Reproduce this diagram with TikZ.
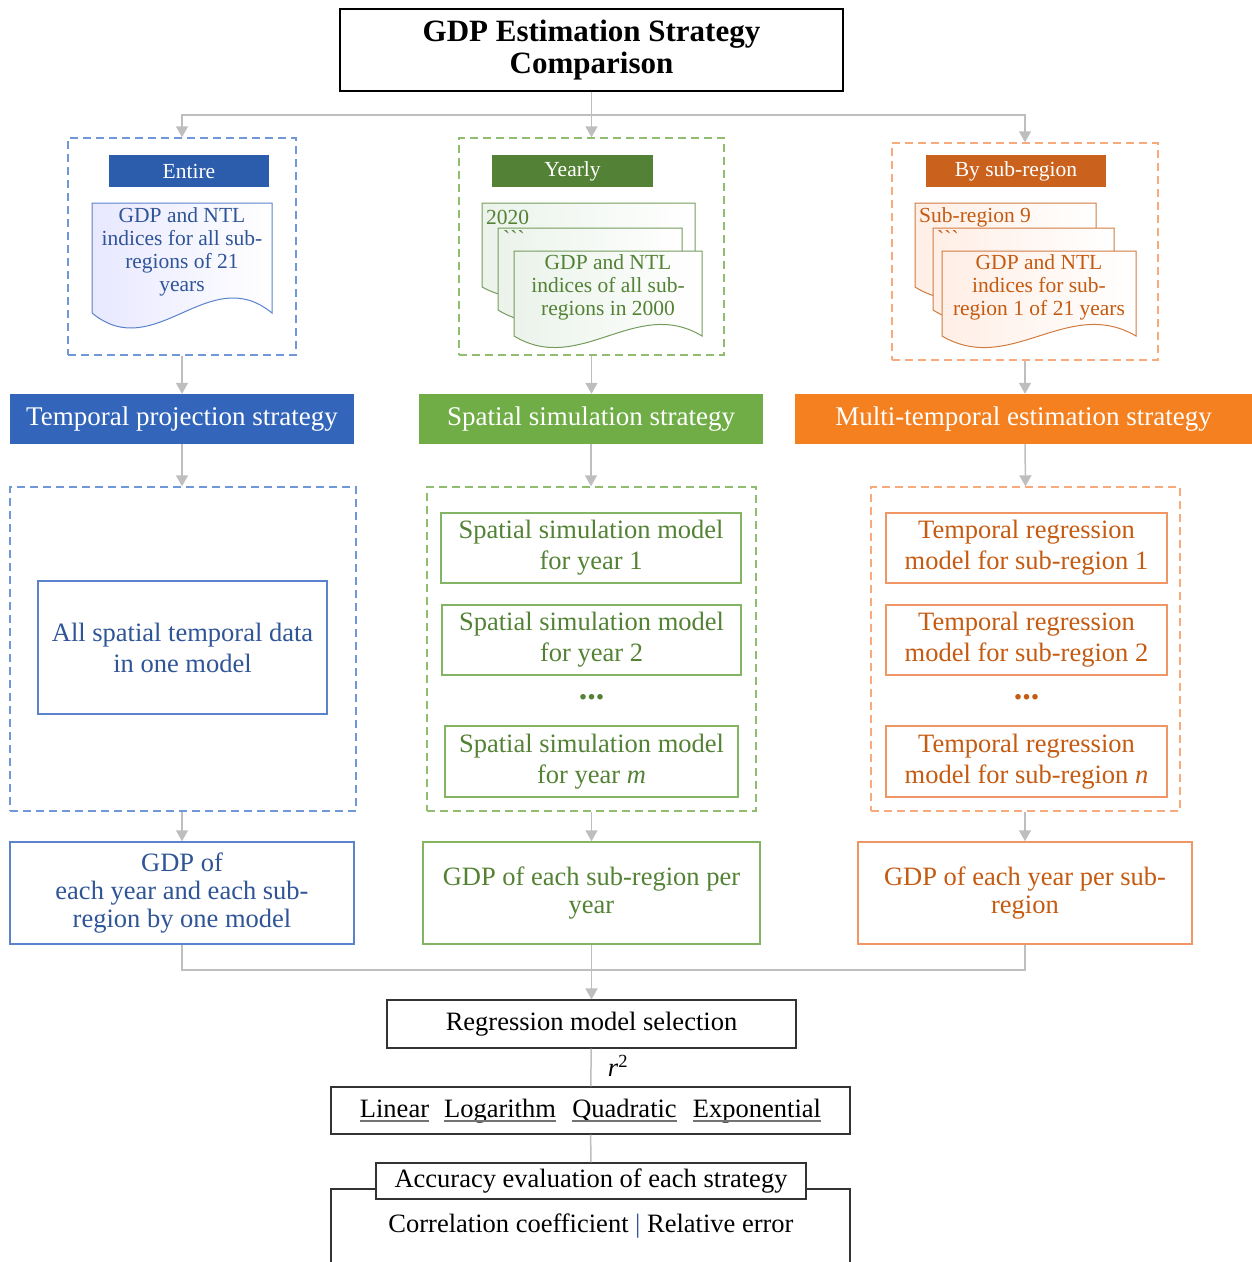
\documentclass[tikz,border=0pt]{standalone}
\usepackage{fontspec}
\setmainfont{Liberation Serif}
\usetikzlibrary{arrows.meta,positioning}

\definecolor{arrowgray}{RGB}{190,190,190}
\definecolor{blueTxt}{RGB}{47,85,151}
\definecolor{blueHead}{RGB}{44,92,172}
\definecolor{blueBar}{RGB}{51,102,187}
\definecolor{blueDash}{RGB}{112,152,216}
\definecolor{blueLine}{RGB}{90,130,205}
\definecolor{greenTxt}{RGB}{84,130,53}
\definecolor{greenHead}{RGB}{83,129,53}
\definecolor{greenBar}{RGB}{112,173,71}
\definecolor{greenDash}{RGB}{145,190,110}
\definecolor{greenLine}{RGB}{130,180,100}
\definecolor{orangeTxt}{RGB}{197,90,17}
\definecolor{orangeHead}{RGB}{202,98,30}
\definecolor{orangeBar}{RGB}{245,128,32}
\definecolor{orangeDash}{RGB}{248,170,125}
\definecolor{orangeLine}{RGB}{240,150,100}

\newcommand{\txttitle}{\fontsize{31}{32}\selectfont\bfseries}
\newcommand{\txtmain}{\fontsize{26.5}{31}\selectfont}
\newcommand{\txtbar}{\fontsize{27}{31}\selectfont}
\newcommand{\txtout}{\fontsize{26.5}{28}\selectfont}
\newcommand{\txtsmall}{\fontsize{21.5}{23}\selectfont}
\newcommand{\ticks}{\textasciigrave\textasciigrave\textasciigrave}

% document shape: style, x left, y top, x right, y bottom, wave
\newcommand{\docshape}[6]{%
  \draw[#1] (#2,#3) -- (#4,#3) -- (#4,#5)
    .. controls ({#4-0.35*(#4-#2)},{#5-#6}) and ({#2+0.35*(#4-#2)},{#5+#6}) .. (#2,#5) -- cycle;}

\begin{document}
\begin{tikzpicture}[x=1pt,y=-1pt]

    % Styles
    \tikzstyle{arrow} = [draw=arrowgray, line width=1.5pt, -{Triangle[width=12pt,length=11pt]}]
    \tikzstyle{link} = [draw=arrowgray, line width=1.5pt]
    \tikzstyle{box} = [rectangle, text centered, align=center, inner sep=0pt]
    \tikzstyle{plainbox} = [box, draw=black!80, line width=1.1pt, font=\txtmain]
    \tikzset{zoneB/.style={box, draw=blueDash, line width=1.4pt, dash pattern=on 8pt off 5pt}}
    \tikzset{zoneG/.style={box, draw=greenDash, line width=1.4pt, dash pattern=on 8pt off 5pt}}
    \tikzset{zoneO/.style={box, draw=orangeDash, line width=1.4pt, dash pattern=on 8pt off 5pt}}
    \tikzset{head/.style={box, text=white, font=\txtsmall, minimum height=32pt}}
    \tikzset{bar/.style={box, text=white, font=\txtbar, minimum height=50pt}}
    \tikzset{docB/.style={draw=blueLine, line width=1pt, left color=blue!9, right color=white}}
    \tikzset{docG/.style={draw=greenTxt!80, line width=1pt, left color=green!40!black!8, right color=white}}
    \tikzset{docO/.style={draw=orangeTxt!80, line width=1pt, left color=red!30!orange!10, right color=white}}
    \tikzset{modelG/.style={box, draw=greenLine, line width=1.2pt, text=greenTxt, font=\txtmain}}
    \tikzset{modelO/.style={box, draw=orangeLine, line width=1.2pt, text=orangeTxt, font=\txtmain}}
    \tikzset{dots/.style={box, font=\fontsize{34}{34}\selectfont\bfseries}}
    \tikzset{word/.style={inner sep=0pt, font=\txtmain}}
    \tikzset{uline/.style={draw=black!55, line width=1.6pt}}

    \useasboundingbox (0,0) rectangle (1252,1262);

    % Title
    \node (title) [box, draw=black, line width=1.2pt, font=\txttitle, minimum width=503pt, minimum height=82pt] at (591.5,50) {GDP Estimation Strategy\\Comparison};
    \coordinate (split) at (591.5,115);

    % Input zones
    \node (ezone) [zoneB, minimum width=228pt, minimum height=217pt] at (182,246.5) {};
    \node (yzone) [zoneG, minimum width=265pt, minimum height=217pt] at (591.5,246.5) {};
    \node (szone) [zoneO, minimum width=266pt, minimum height=217pt] at (1025,251.5) {};

    \node (entire) [head, fill=blueHead, minimum width=160pt] at (189,171) {Entire};
    \node (yearly) [head, fill=greenHead, minimum width=161pt] at (572.5,171) {Yearly};
    \node (bysub) [head, fill=orangeHead, minimum width=180pt] at (1016,171) {By sub-region};

    \docshape{docB}{92}{203}{272}{313}{52}
    \node (edoc) [box, text=blueTxt, font=\txtsmall] at (182,252) {GDP and NTL\\indices for all sub-\\regions of 21\\years};

    \docshape{docG}{482}{203}{695}{287}{40}
    \docshape{docG}{498}{228}{682}{310}{40}
    \docshape{docG}{514}{251}{702}{336}{40}
    \node (y2020) [box, anchor=west, text=greenTxt, font=\txtsmall] at (486,217) {2020};
    \node (yticks) [box, anchor=west, text=greenTxt, font=\txtsmall] at (503,238) {\ticks};
    \node (ydoc) [box, text=greenTxt, font=\txtsmall] at (608,287) {GDP and NTL\\indices of all sub-\\regions in 2000};

    \docshape{docO}{915}{203}{1096}{287}{40}
    \docshape{docO}{933}{228}{1114}{310}{40}
    \docshape{docO}{942}{251}{1136}{336}{40}
    \node (s9) [box, anchor=west, text=orangeTxt, font=\txtsmall] at (919,217) {Sub-region 9};
    \node (sticks) [box, anchor=west, text=orangeTxt, font=\txtsmall] at (937,238) {\ticks};
    \node (sdoc) [box, text=orangeTxt, font=\txtsmall] at (1039,287) {GDP and NTL\\indices for sub-\\region 1 of 21 years};

    % Strategies
    \node (tbar) [bar, fill=blueBar, minimum width=344pt] at (182,419) {Temporal projection strategy};
    \node (sbar) [bar, fill=greenBar, minimum width=344pt] at (591,419) {Spatial simulation strategy};
    \node (mbar) [bar, fill=orangeBar, minimum width=457pt] at (1023.5,419) {Multi-temporal estimation strategy};

    % Model zones
    \node (ezone2) [zoneB, minimum width=346pt, minimum height=324pt] at (183,649) {};
    \node (yzone2) [zoneG, minimum width=329pt, minimum height=324pt] at (591.5,649) {};
    \node (szone2) [zoneO, minimum width=309pt, minimum height=324pt] at (1025.5,649) {};

    \node (allbox) [box, draw=blueLine, line width=1.2pt, text=blueTxt, font=\txtmain, minimum width=289pt, minimum height=133pt] at (182.5,647.5) {All spatial temporal data\\in one model};

    \node (ym1) [modelG, minimum width=300pt, minimum height=70pt] at (591,548) {Spatial simulation model\\for year 1};
    \node (ym2) [modelG, minimum width=299pt, minimum height=70pt] at (591.5,640) {Spatial simulation model\\for year 2};
    \node (ydots) [dots, text=greenTxt] at (591.5,697) {...};
    \node (ymm) [modelG, minimum width=293pt, minimum height=71pt] at (591.5,761.5) {Spatial simulation model\\for year \textit{m}};

    \node (sm1) [modelO, minimum width=281pt, minimum height=70pt] at (1026.5,548) {Temporal regression\\model for sub-region 1};
    \node (sm2) [modelO, minimum width=281pt, minimum height=70pt] at (1026.5,640) {Temporal regression\\model for sub-region 2};
    \node (sdots) [dots, text=orangeTxt] at (1026.5,697) {...};
    \node (smn) [modelO, minimum width=281pt, minimum height=71pt] at (1026.5,761.5) {Temporal regression\\model for sub-region \textit{n}};

    % Outputs
    \node (eout) [box, draw=blueLine, line width=1.5pt, text=blueTxt, font=\txtout, minimum width=344pt, minimum height=102pt] at (182,893) {GDP of\\each year and each sub-\\region by one model};
    \node (yout) [box, draw=greenLine, line width=1.5pt, text=greenTxt, font=\txtout, minimum width=337pt, minimum height=102pt] at (591.5,893) {GDP of each sub-region per\\year};
    \node (sout) [box, draw=orangeLine, line width=1.5pt, text=orangeTxt, font=\txtout, minimum width=334pt, minimum height=102pt] at (1025,893) {GDP of each year per sub-\\region};
    \coordinate (merge) at (591.5,970);

    % Selection and evaluation
    \node (regsel) [plainbox, minimum width=409pt, minimum height=48pt] at (591.5,1024) {Regression model selection};
    \node (rsq) [box, font=\txtmain] at (618,1066) {\textit{r}\textsuperscript{2}};
    \node (models) [plainbox, minimum width=519pt, minimum height=47pt] at (590.5,1110.5) {};
    \node (lin) [word, anchor=base] at (394.5,1117) {Linear};
    \node (loga) [word, anchor=base] at (500,1117) {Logarithm};
    \node (quad) [word, anchor=base] at (624.5,1117) {Quadratic};
    \node (expo) [word, anchor=base] at (757,1117) {Exponential};
    \node (acc) [plainbox, fill=white, minimum width=430pt, minimum height=36pt] at (591,1181) {Accuracy evaluation of each strategy};
    \node (corr) [box, font=\txtmain] at (591,1226) {Correlation coefficient {\color{blueTxt}|} Relative error};

    % Arrows
    \draw [link] (title) -- (split);
    \draw [arrow] (split) -| (ezone.north);
    \draw [arrow] (title) -- (yzone);
    \draw [arrow] (split) -| (szone.north);
    \draw [arrow] (ezone) -- (tbar);
    \draw [arrow] (yzone) -- (yzone |- sbar.north);
    \draw [arrow] (szone) -- (szone |- mbar.north);
    \draw [arrow] (tbar) -- (tbar |- ezone2.north);
    \draw [arrow] (sbar) -- (sbar |- yzone2.north);
    \draw [arrow] (szone |- mbar.south) -- (szone2.north);
    \draw [arrow] (ezone2.south -| eout) -- (eout);
    \draw [arrow] (yzone2) -- (yout);
    \draw [arrow] (szone2.south -| sout) -- (sout);
    \draw [link] (eout) |- (merge);
    \draw [link] (sout) |- (merge);
    \draw [arrow] (yout) -- (regsel);
    \draw [link] (regsel) -- (models);
    \draw [link] (models) -- (acc);

    % Underlines and frame
    \foreach \w in {lin,loga,quad,expo}
        \draw [uline] ([yshift=-4pt]\w.base west) -- ([yshift=-4pt]\w.base east);
    \draw [draw=black!80, line width=1.1pt] ([yshift=-8pt]acc.west) -| (331,1262);
    \draw [draw=black!80, line width=1.1pt] ([yshift=-8pt]acc.east) -| (850,1262);

\end{tikzpicture}
\end{document}
